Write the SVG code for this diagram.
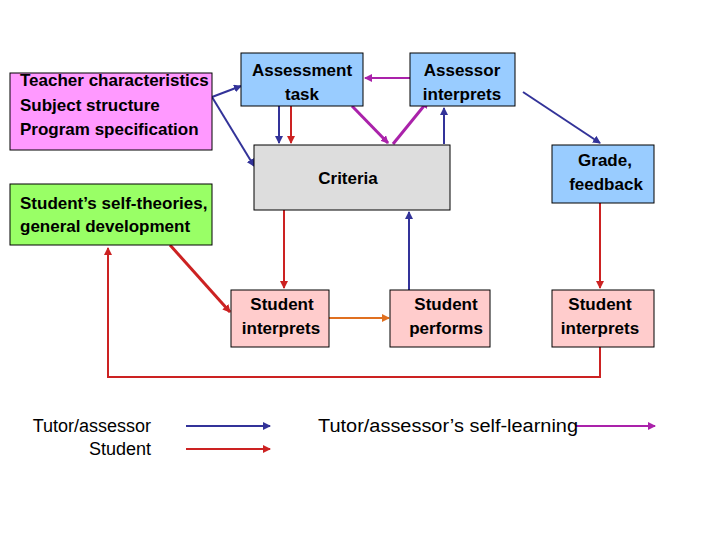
<svg xmlns="http://www.w3.org/2000/svg" width="720" height="540" viewBox="0 0 720 540">
<style>
.b{stroke:#000;stroke-width:1}
.t{font-family:"Liberation Sans",Arial,sans-serif;font-size:17px;font-weight:bold;fill:#000}
.l{font-family:"Liberation Sans",Arial,sans-serif;font-size:18px;fill:#000}
.bl{stroke:#333399;stroke-width:2;fill:none;marker-end:url(#mb)}
.rd{stroke:#cc2222;stroke-width:2;fill:none;marker-end:url(#mr)}
.mg{stroke:#aa22aa;stroke-width:2;fill:none;marker-end:url(#mm)}
.thick{stroke-width:3}
</style>
<defs>
<marker id="mb" markerWidth="8" markerHeight="8" refX="7" refY="4" orient="auto" markerUnits="userSpaceOnUse"><path d="M0,0L8,4L0,8z" fill="#333399"/></marker>
<marker id="mr" markerWidth="8" markerHeight="8" refX="7" refY="4" orient="auto" markerUnits="userSpaceOnUse"><path d="M0,0L8,4L0,8z" fill="#cc2222"/></marker>
<marker id="mm" markerWidth="8" markerHeight="8" refX="7" refY="4" orient="auto" markerUnits="userSpaceOnUse"><path d="M0,0L8,4L0,8z" fill="#aa22aa"/></marker>
<marker id="mo" markerWidth="8" markerHeight="8" refX="7" refY="4" orient="auto" markerUnits="userSpaceOnUse"><path d="M0,0L8,4L0,8z" fill="#e07020"/></marker>
</defs>
<rect width="720" height="540" fill="#fff"/>
<g id="connectors">
<path class="bl" d="M212,97L241,86"/>
<path class="bl" d="M212,97L254,166"/>
<path class="bl" d="M279,106V143"/>
<path class="rd" d="M291,106V143"/>
<path class="mg thick" d="M352,106L388,143"/>
<path class="mg thick" d="M393,144L428,101"/>
<path class="bl" d="M444,144V108"/>
<path class="mg" d="M410,78H365"/>
<path class="bl" d="M523,92L600,143"/>
<path class="rd" d="M284,210V288"/>
<path class="bl" d="M409,290V212"/>
<path class="rd" d="M600,203V288"/>
<path class="rd thick" d="M170,245L230,312"/>
<path d="M329,318H389" stroke="#e07020" stroke-width="2" fill="none" marker-end="url(#mo)"/>
<path class="rd" d="M600,347V377H108V248"/>
<path class="bl" d="M186,426H270"/>
<path class="rd" d="M186,449H270"/>
<path class="mg" d="M575,426H655"/>
</g>
<g id="factors"><rect class="b" x="10" y="73" width="202" height="77" fill="#ff99ff"/>
<text class="t" x="20" y="86">Teacher characteristics</text><text class="t" x="20" y="111">Subject structure</text><text class="t" x="20" y="135">Program specification</text></g>
<g id="task"><rect class="b" x="241" y="53" width="122" height="53" fill="#99ccff"/>
<text class="t" x="302" y="76" text-anchor="middle">Assessment</text><text class="t" x="302" y="100" text-anchor="middle">task</text></g>
<g id="assessor"><rect class="b" x="410" y="53" width="105" height="53" fill="#99ccff"/>
<text class="t" x="462" y="76" text-anchor="middle">Assessor</text><text class="t" x="462" y="100" text-anchor="middle">interprets</text></g>
<g id="criteria"><rect class="b" x="254" y="145" width="196" height="65" fill="#dddddd"/>
<text class="t" x="348" y="184" text-anchor="middle">Criteria</text></g>
<g id="grade"><rect class="b" x="552" y="145" width="102" height="58" fill="#99ccff"/>
<text class="t" x="605" y="166" text-anchor="middle">Grade,</text><text class="t" x="606" y="190" text-anchor="middle">feedback</text></g>
<g id="self"><rect class="b" x="10" y="184" width="202" height="61" fill="#99ff66"/>
<text class="t" x="20" y="209">Student’s self-theories,</text><text class="t" x="20" y="232">general development</text></g>
<g id="si1"><rect class="b" x="231" y="290" width="98" height="57" fill="#ffcccc"/>
<text class="t" x="282" y="310" text-anchor="middle">Student</text><text class="t" x="281" y="334" text-anchor="middle">interprets</text></g>
<g id="sp"><rect class="b" x="390" y="290" width="100" height="57" fill="#ffcccc"/>
<text class="t" x="446" y="310" text-anchor="middle">Student</text><text class="t" x="446" y="334" text-anchor="middle">performs</text></g>
<g id="si2"><rect class="b" x="552" y="290" width="102" height="57" fill="#ffcccc"/>
<text class="t" x="600" y="310" text-anchor="middle">Student</text><text class="t" x="600" y="334" text-anchor="middle">interprets</text></g>
<g id="legend">
<text class="l" x="151" y="432" text-anchor="end">Tutor/assessor</text>
<text class="l" x="151" y="455" text-anchor="end">Student</text>
<text class="l" x="318" y="432" textLength="260" lengthAdjust="spacingAndGlyphs">Tutor/assessor’s self-learning</text>
</g>
</svg>
